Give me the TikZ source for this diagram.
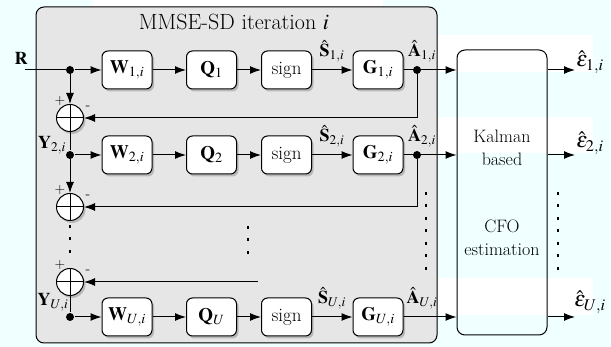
\documentclass[tikz,border=0pt]{standalone}
\usepackage{mathptmx}
\usetikzlibrary{arrows.meta,shadows,positioning}

\definecolor{bgcyan}{RGB}{240,255,255}
\definecolor{framegray}{RGB}{230,230,230}

\begin{document}
\begin{tikzpicture}[x=1pt,y=-1pt,line width=1pt,
  >={Latex[length=11pt,width=8pt]},
  blk/.style={draw,fill=white,rounded corners=6pt,minimum width=50pt,minimum height=38pt,inner sep=0pt,
    font=\fontsize{19}{21}\selectfont,drop shadow={shadow xshift=2pt,shadow yshift=-2.5pt,opacity=0.45}},
  adder/.style={draw,circle,fill=white,minimum size=27pt,inner sep=0pt,
    drop shadow={shadow xshift=2pt,shadow yshift=-2.5pt,opacity=0.45},
    path picture={\draw (path picture bounding box.north) -- (path picture bounding box.south)
      (path picture bounding box.west) -- (path picture bounding box.east);}},
  jdot/.style={circle,fill,inner sep=0pt,minimum size=8pt},
  lbl/.style={font=\fontsize{18}{20}\selectfont},
  sgn/.style={font=\fontsize{14}{14}\selectfont},
  vdots/.style={line width=2.5pt,dash pattern=on 3pt off 9.5pt}]
% background and white bands
\path[fill=bgcyan] (0,0) rectangle (611,347);
\fill[white] (93,0) rectangle (383,7);
\foreach \a/\b in {35/72,117/153,278/315}
  \fill[white] (438,\a) rectangle (593,\b);
% MMSE-SD frame
\draw[fill=framegray,rounded corners=8pt] (36,7) rectangle (437,343);
\node[font=\fontsize{22}{24}\selectfont] (title) at (234,22) {MMSE-SD iteration $i$};
% Kalman block
\node[draw,rounded corners=8pt,minimum width=90pt,minimum height=285pt] (kal) at (502,192.5) {};
\node[lbl,align=center,font=\fontsize{18}{23}\selectfont] (kaltxt) at (502,148) {Kalman\\based};
\node[lbl,align=center,font=\fontsize{18}{23}\selectfont] (cfotxt) at (502,238) {CFO\\estimation};
% rows
\foreach \r/\y/\ey in {1/70/62,2/155/143,U/317/302} {
  \node[jdot] (y\r) at (70,\y) {};
  \node[blk] (w\r) at (127,\y) {$\mathbf{W}_{\r,i}$};
  \node[blk] (q\r) at (211.5,\y) {$\mathbf{Q}_{\r}$};
  \node[blk] (s\r) at (286.5,\y) {sign};
  \node[blk] (g\r) at (378,\y) {$\mathbf{G}_{\r,i}$};
  \coordinate (e\r) at (575,\y);
  \draw[->] (y\r) -- (w\r);
  \draw[->] (w\r) -- (q\r);
  \draw[->] (q\r) -- (s\r);
  \draw[->] (s\r) -- (g\r);
  \draw[->] (g\r) -- (g\r -| kal.west);
  \draw[->] (kal.east |- e\r) -- (e\r);
  \node[lbl] (sl\r) at (332,\y-19) {$\hat{\mathbf{S}}_{\r,i}$};
  \node[lbl] (al\r) at (422,\y-19) {$\hat{\mathbf{A}}_{\r,i}$};
  \node[font=\fontsize{22}{24}\selectfont] (el\r) at (590,\ey) {$\hat{\varepsilon}_{\r,i}$};
}
% adders
\node[adder] (sum1) at (70,118) {};
\node[adder] (sum2) at (70,207) {};
\node[adder] (sumU) at (70,282) {};
\foreach \k in {1,2,U} {
  \node[sgn] at ([shift={(-10,-17)}]sum\k) {+};
  \node[sgn] at ([shift={(18,-10)}]sum\k) {-};
}
% input and vertical chain
\coordinate (rin) at (25,70);
\node[lbl] (rlbl) at (21,58) {$\mathbf{R}$};
\draw (rin) -- (y1);
\draw[->] (y1) -- (sum1);
\draw (sum1) -- (y2);
\draw[->] (y2) -- (sum2);
\draw[vdots,shorten <=4pt,shorten >=10pt] (sum2) -- (sumU);
\draw (sumU) -- (yU);
\node[lbl] (ylbl2) at (52,145) {$\mathbf{Y}_{2,i}$};
\node[lbl] (ylblU) at (53,302) {$\mathbf{Y}_{U,i}$};
% feedback
\node[jdot] (a1) at (417,70) {};
\node[jdot] (a2) at (417,155) {};
\draw[->] (a1) |- (sum1);
\draw[->] (a2) |- (sum2);
\coordinate (fbU) at (258,282);
\draw[->] (fbU) -- (sumU);
% dots
\draw[vdots] (248,226) -- (248,262);
\draw[vdots] (426,192) -- (426,272);
\draw[vdots] (558,192) -- (558,272);
\end{tikzpicture}
\end{document}
